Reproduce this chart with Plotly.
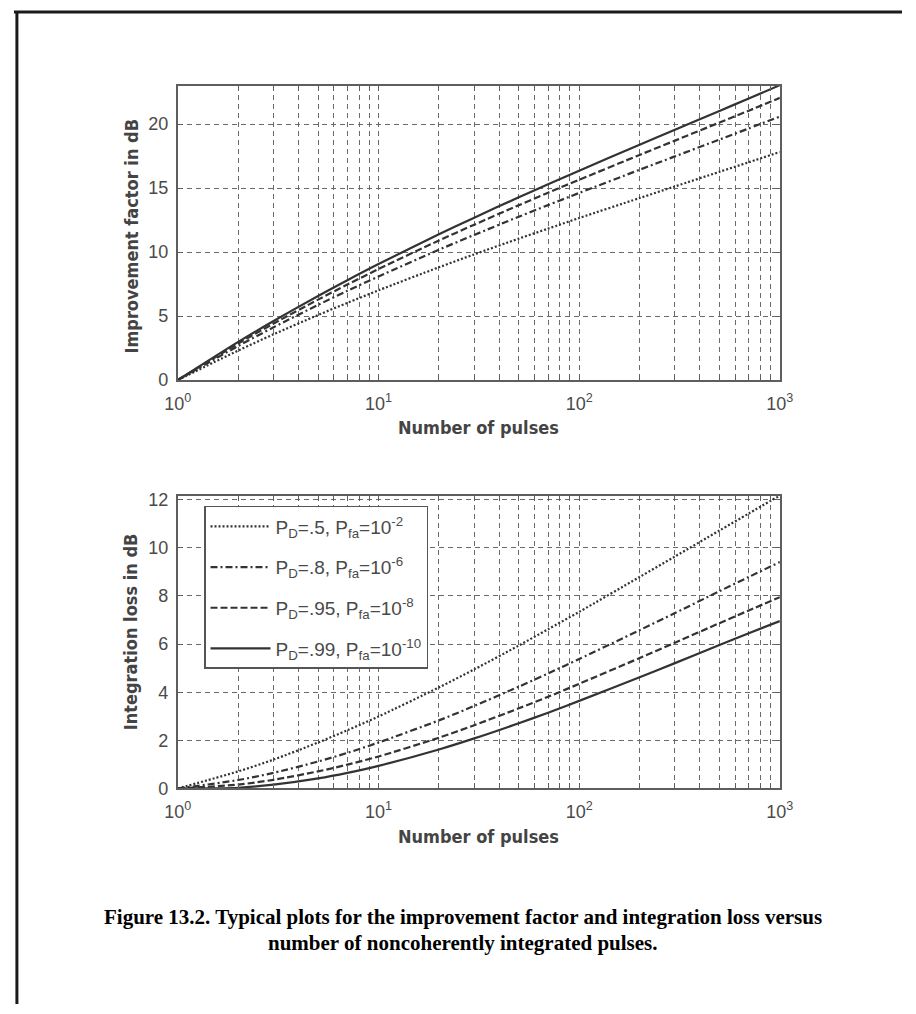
import plotly.graph_objects as go

# ---- data ----
pulses = [1, 2, 3, 5, 7, 10, 20, 30, 50, 70, 100, 200, 300, 500, 700, 1000]

series_names = [
    "P<sub>D</sub>=.5, P<sub>fa</sub>=10<sup>-2</sup>",
    "P<sub>D</sub>=.8, P<sub>fa</sub>=10<sup>-6</sup>",
    "P<sub>D</sub>=.95, P<sub>fa</sub>=10<sup>-8</sup>",
    "P<sub>D</sub>=.99, P<sub>fa</sub>=10<sup>-10</sup>",
]

# improvement factor in dB (top panel)
imp_pd50 = [0, 2.30, 3.57, 5.08, 6.03, 7.01, 8.81, 9.82, 11.05, 11.83, 12.66, 14.22, 15.13, 16.27, 17.02, 17.82]
imp_pd80 = [0, 2.66, 4.12, 5.87, 6.97, 8.09, 10.18, 11.34, 12.76, 13.67, 14.62, 16.43, 17.48, 18.79, 19.66, 20.59]
imp_pd95 = [0, 2.85, 4.41, 6.28, 7.46, 8.67, 10.90, 12.14, 13.66, 14.64, 15.65, 17.59, 18.71, 20.12, 21.05, 22.05]
imp_pd99 = [0, 2.98, 4.61, 6.57, 7.80, 9.06, 11.39, 12.69, 14.28, 15.30, 16.36, 18.39, 19.56, 21.03, 22.00, 23.04]

# integration loss in dB (bottom panel)
loss_pd50 = [0, 0.71, 1.20, 1.91, 2.42, 2.99, 4.20, 4.95, 5.94, 6.62, 7.34, 8.79, 9.64, 10.72, 11.43, 12.18]
loss_pd80 = [0, 0.35, 0.65, 1.12, 1.48, 1.91, 2.83, 3.43, 4.23, 4.78, 5.38, 6.58, 7.29, 8.20, 8.79, 9.41]
loss_pd95 = [0, 0.16, 0.36, 0.71, 0.99, 1.33, 2.11, 2.63, 3.33, 3.81, 4.35, 5.42, 6.06, 6.87, 7.40, 7.95]
loss_pd99 = [0, 0.03, 0.16, 0.42, 0.65, 0.94, 1.62, 2.08, 2.71, 3.15, 3.64, 4.62, 5.21, 5.96, 6.45, 6.96]

top_ticks = [0, 5, 10, 15, 20]
bottom_ticks = [0, 2, 4, 6, 8, 10, 12]
decades = [1, 10, 100, 1000]
decade_labels = ["10<sup>0</sup>", "10<sup>1</sup>", "10<sup>2</sup>", "10<sup>3</sup>"]

# ---- styling ----
W, H = 916, 1014
LINE_COL = "#333333"
GRID_COL = "#6a6a6a"
FRAME_COL = "#5e5e5e"
TEXT_COL = "#4a4a4a"
dashes = ["2px,2px", "7px,3px,2px,3px", "7px,3px", "solid"]

x_tickvals = []
x_ticktext = []
for d, lab in zip(decades[:-1], decade_labels[:-1]):
    for k in range(1, 10):
        x_tickvals.append(k * d)
        x_ticktext.append(lab if k == 1 else "")
x_tickvals.append(decades[-1])
x_ticktext.append(decade_labels[-1])


def py(px):
    return 1 - px / H


def px_x(px):
    return px / W


fig = go.Figure()

top_sets = [imp_pd50, imp_pd80, imp_pd95, imp_pd99]
bot_sets = [loss_pd50, loss_pd80, loss_pd95, loss_pd99]

for i in range(4):
    fig.add_trace(go.Scatter(
        x=pulses, y=top_sets[i], mode="lines", xaxis="x", yaxis="y",
        line=dict(color=LINE_COL, width=2.2, dash=dashes[i], shape="spline", smoothing=0.8),
        showlegend=False, hoverinfo="skip"))
for i in range(4):
    fig.add_trace(go.Scatter(
        x=pulses, y=bot_sets[i], mode="lines", xaxis="x2", yaxis="y2",
        name=series_names[i], legendgroup="g%d" % i,
        line=dict(color=LINE_COL, width=2.2, dash=dashes[i], shape="spline", smoothing=0.8),
        showlegend=True, hoverinfo="skip"))

x_left, x_right = px_x(169), px_x(790)

tick_font = dict(family="Liberation Sans, Arial, sans-serif", size=18, color=TEXT_COL)

common_x = dict(
    type="log", range=[0, 3], domain=[x_left, x_right],
    tickmode="array", tickvals=x_tickvals, ticktext=x_ticktext,
    ticks="inside", ticklen=5, tickcolor=FRAME_COL, tickwidth=1,
    showgrid=True, gridcolor=GRID_COL, griddash="5px,4px", gridwidth=1,
    showline=True, linecolor=FRAME_COL, linewidth=2, mirror="allticks",
    tickfont=tick_font, zeroline=False, ticklabelstandoff=6,
)
common_y = dict(
    tickmode="array", ticks="inside", ticklen=5, tickcolor=FRAME_COL, tickwidth=1,
    showgrid=True, gridcolor=GRID_COL, griddash="5px,4px", gridwidth=1,
    showline=True, linecolor=FRAME_COL, linewidth=2, mirror="allticks",
    tickfont=tick_font, zeroline=False, ticklabelstandoff=4,
)

fig.update_layout(
    width=W, height=H,
    margin=dict(l=0, r=0, t=0, b=0),
    paper_bgcolor="white", plot_bgcolor="white",
    xaxis=dict(common_x, anchor="y"),
    yaxis=dict(common_y, range=[0, 23], tickvals=top_ticks, domain=[py(380), py(81)], anchor="x"),
    xaxis2=dict(common_x, anchor="y2"),
    yaxis2=dict(common_y, range=[0, 12.15], tickvals=bottom_ticks, domain=[py(795), py(498)], anchor="x2"),
    legend=dict(
        x=px_x(196), y=py(508), xanchor="left", yanchor="top",
        bgcolor="white", bordercolor="#555555", borderwidth=1.5,
        font=dict(family="Liberation Sans, Arial, sans-serif", size=19, color=TEXT_COL),
        itemwidth=60, tracegroupgap=13, traceorder="grouped",
    ),
    showlegend=True,
)

title_font = dict(family="DejaVu Sans Condensed, Liberation Sans Narrow, Arial Narrow, sans-serif",
                  size=18, color="#444444", weight="bold")

cap_font = dict(family="Liberation Serif, Times New Roman, serif", size=21, color="black", weight="bold")

annotations = [
    dict(text="Number of pulses", x=(x_left + x_right) / 2, y=py(428), xref="paper", yref="paper",
         showarrow=False, font=title_font, xanchor="center", yanchor="middle"),
    dict(text="Number of pulses", x=(x_left + x_right) / 2, y=py(844), xref="paper", yref="paper",
         showarrow=False, font=title_font, xanchor="center", yanchor="middle"),
    dict(text="Improvement factor in dB", x=px_x(121), y=py(234), xref="paper", yref="paper",
         showarrow=False, font=title_font, textangle=-90, xanchor="center", yanchor="middle"),
    dict(text="Integration loss in dB", x=px_x(121), y=py(636), xref="paper", yref="paper",
         showarrow=False, font=title_font, textangle=-90, xanchor="center", yanchor="middle"),
    dict(text="Figure 13.2. Typical plots for the improvement factor and integration loss versus",
         x=px_x(463), y=py(926), xref="paper", yref="paper", showarrow=False,
         font=cap_font, xanchor="center", yanchor="middle"),
    dict(text="number of noncoherently integrated pulses.",
         x=px_x(463), y=py(952), xref="paper", yref="paper", showarrow=False,
         font=cap_font, xanchor="center", yanchor="middle"),
]
fig.update_layout(annotations=annotations)

# page border (top and left)
fig.add_shape(type="line", xref="paper", yref="paper", x0=0, x1=1, y0=py(6), y1=py(6),
              line=dict(color="#1a1a1a", width=3))
fig.add_shape(type="line", xref="paper", yref="paper", x0=px_x(3), x1=px_x(3), y0=0, y1=py(6),
              line=dict(color="#1a1a1a", width=3))

fig.write_html("out.html")
